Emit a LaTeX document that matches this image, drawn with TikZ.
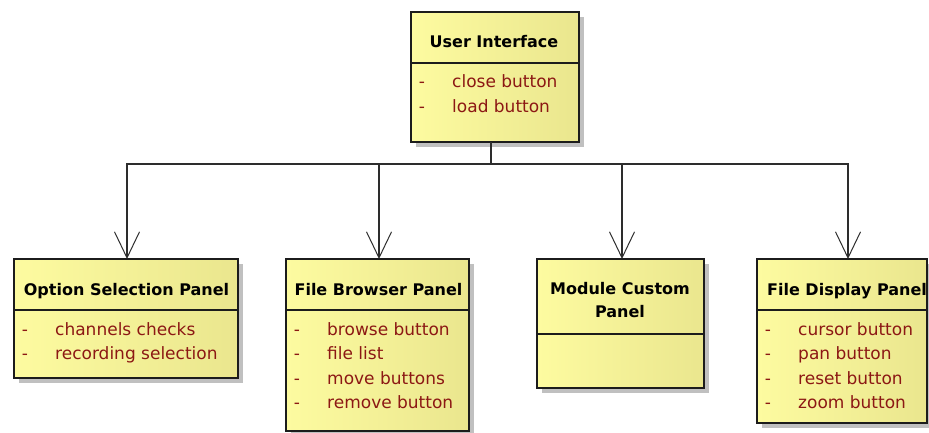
\documentclass[tikz,border=0pt]{standalone}
\usepackage{fontspec}
\setmainfont{DejaVu Sans}
\usetikzlibrary{arrows.meta,calc}

\definecolor{boxleft}{RGB}{253,251,160}
\definecolor{boxmid}{RGB}{250,248,168}
\definecolor{boxright}{RGB}{234,230,142}
\definecolor{attrred}{RGB}{140,24,20}
\definecolor{shadowgray}{RGB}{192,192,192}
\definecolor{edge}{RGB}{28,28,28}
\definecolor{wire}{RGB}{45,45,45}

\tikzset{
  classbox/.style={draw=edge, line width=1.6pt, left color=boxleft,
    middle color=boxmid, right color=boxright, anchor=north west,
    inner sep=0pt, outer sep=0pt},
  divider/.style={draw=edge, line width=1.6pt},
  titlelbl/.style={font=\fontsize{16pt}{23pt}\selectfont\bfseries,
    text=black, inner sep=0pt, align=center},
  attrlbl/.style={font=\fontsize{17pt}{20pt}\selectfont, text=attrred,
    inner sep=0pt, anchor=base west},
  dashlbl/.style={font=\fontsize{17pt}{20pt}\selectfont, text=attrred,
    inner sep=0pt, anchor=base},
  conn/.style={draw=wire, line width=1.6pt},
  openarrow/.style={conn, -{Straight Barb[length=26pt, width=25pt, line width=1pt]}}
}

% class box: name, left, top, right, bottom, y of the compartment divider
\newcommand\classframe[6]{%
  \fill[shadowgray] (#2+5,#3+5) rectangle (#4+5,#5+5);
  \node[classbox, minimum width={(#4-#2)*1pt}, minimum height={(#5-#3)*1pt}] (#1) at (#2,#3) {};
  \coordinate (#1-div) at (0,#6);
  \draw[divider] (#1.west |- #1-div) -- (#1.east |- #1-div);
}

% one attribute row: node name, box left edge, baseline, text
\newcommand\attrrow[4]{%
  \node[dashlbl] (#1-dash) at (#2+11,#3) {-};
  \node[attrlbl] (#1) at (#2+41,#3) {#4};
}

\begin{document}
\begin{tikzpicture}[x=1pt, y=-1pt]
  \useasboundingbox (0,0) rectangle (929,433);
  \clip (0,0) rectangle (929,433);

  % --- User Interface
  \classframe{ui}{411}{12}{579}{142}{63}
  \node[titlelbl, anchor=base] (ui-title) at (494,47.5) {User Interface};
  \attrrow{ui-a1}{411}{88}{close button}
  \attrrow{ui-a2}{411}{112.5}{load button}

  % --- Option Selection Panel
  \classframe{osp}{14}{259}{238}{378}{310}
  \node[titlelbl, anchor=base] (osp-title) at (126.5,295) {Option Selection Panel};
  \attrrow{osp-a1}{14}{335}{channels checks}
  \attrrow{osp-a2}{14}{359.5}{recording selection}

  % --- File Browser Panel
  \classframe{fbp}{286}{259}{469}{431}{310}
  \node[titlelbl, anchor=base] (fbp-title) at (378.5,295) {File Browser Panel};
  \attrrow{fbp-a1}{286}{335}{browse button}
  \attrrow{fbp-a2}{286}{359.5}{file list}
  \attrrow{fbp-a3}{286}{384}{move buttons}
  \attrrow{fbp-a4}{286}{408.5}{remove button}

  % --- Module Custom Panel
  \classframe{mcp}{537}{259}{704}{388}{334}
  \node[titlelbl, anchor=center] (mcp-title) at (620,300.5) {Module Custom\\Panel};

  % --- File Display Panel
  \classframe{fdp}{757}{259}{927}{423}{310}
  \node[titlelbl, anchor=base] (fdp-title) at (847,295) {File Display Panel};
  \attrrow{fdp-a1}{757}{335}{cursor button}
  \attrrow{fdp-a2}{757}{359.5}{pan button}
  \attrrow{fdp-a3}{757}{384}{reset button}
  \attrrow{fdp-a4}{757}{408.5}{zoom button}

  % --- connectors
  \coordinate (hub) at (491,164);
  \draw[conn] (ui.south -| hub) -- (hub);
  \draw[openarrow] (hub) -| ([xshift=1pt]osp.north);
  \draw[openarrow] (hub) -| ([xshift=1.5pt]fbp.north);
  \draw[openarrow] (hub) -| ([xshift=1.5pt]mcp.north);
  \draw[openarrow] (hub) -| ([xshift=6pt]fdp.north);
\end{tikzpicture}
\end{document}
